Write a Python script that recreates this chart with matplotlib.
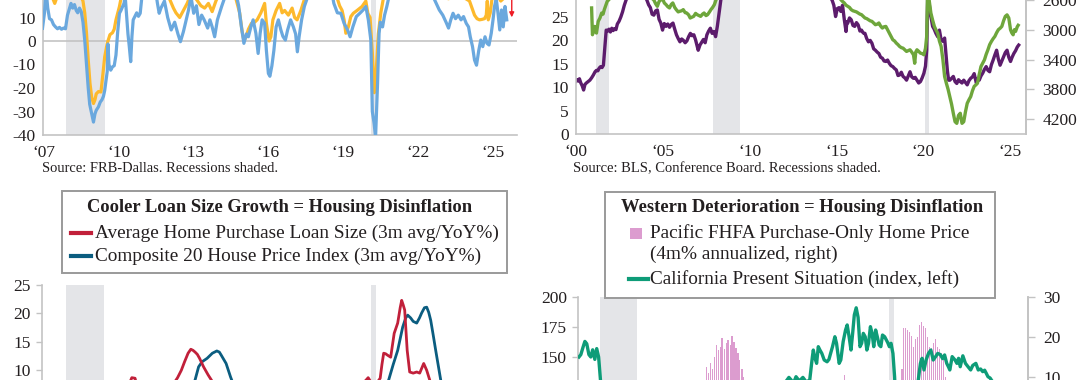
import numpy as np
import matplotlib
matplotlib.use("Agg")
import matplotlib.pyplot as plt
from matplotlib.patches import Rectangle
from matplotlib.lines import Line2D

W, H = 1080, 380
PAD = 200            # spare canvas above and below the visible strip
HT = H + 2 * PAD

# ---------------- data ----------------
# top left: FRB-Dallas survey indexes
tl_blue_x = [2006.96, 2007.04, 2007.1, 2007.17, 2007.24, 2007.32, 2007.4, 2007.48, 2007.56, 2007.64, 2007.72, 2007.8,
             2007.88, 2007.96, 2008.03, 2008.1, 2008.17, 2008.24, 2008.31, 2008.37, 2008.44, 2008.51, 2008.58, 2008.65,
             2008.72, 2008.79, 2008.85, 2008.93, 2009.0, 2009.06, 2009.11, 2009.2, 2009.27, 2009.34, 2009.4, 2009.45,
             2009.5, 2009.55, 2009.58, 2009.62, 2009.69, 2009.76, 2009.83, 2009.9, 2009.97, 2010.04, 2010.1, 2010.17,
             2010.22, 2010.27, 2010.32, 2010.38, 2010.43, 2010.49, 2010.54, 2010.59, 2010.66, 2010.73, 2010.8, 2010.87,
             2010.93, 2011.0, 2011.15, 2011.3, 2011.45, 2011.56, 2011.63, 2011.7, 2011.84, 2011.97, 2012.11, 2012.25,
             2012.38, 2012.48, 2012.6, 2012.71, 2012.8, 2012.9, 2012.96, 2013.01, 2013.12, 2013.22, 2013.33, 2013.43,
             2013.57, 2013.66, 2013.75, 2013.85, 2013.96, 2014.13, 2014.27, 2014.45, 2014.6, 2014.75, 2014.81, 2014.92,
             2015.02, 2015.12, 2015.2, 2015.3, 2015.39, 2015.5, 2015.59, 2015.67, 2015.75, 2015.85, 2015.92, 2016.0,
             2016.06, 2016.14, 2016.22, 2016.31, 2016.4, 2016.5, 2016.58, 2016.68, 2016.77, 2016.89, 2017.0, 2017.09,
             2017.16, 2017.23, 2017.33, 2017.44, 2017.58, 2017.8, 2018.0, 2018.2, 2018.4, 2018.55, 2018.62, 2018.76,
             2018.9, 2019.03, 2019.17, 2019.27, 2019.38, 2019.52, 2019.66, 2019.79, 2019.9, 2020.0, 2020.1, 2020.16,
             2020.23, 2020.29, 2020.33, 2020.37, 2020.43, 2020.48, 2020.57, 2020.65, 2020.74, 2020.83, 2021.0, 2021.3,
             2021.6, 2021.9, 2022.2, 2022.5, 2022.72, 2022.84, 2022.98, 2023.11, 2023.21, 2023.3, 2023.39, 2023.49,
             2023.6, 2023.71, 2023.81, 2023.92, 2024.01, 2024.08, 2024.17, 2024.25, 2024.33, 2024.42, 2024.5, 2024.58,
             2024.67, 2024.75, 2024.83, 2024.92, 2024.99, 2025.05, 2025.12, 2025.19, 2025.26, 2025.33, 2025.4, 2025.47,
             2025.54]
tl_blue_y = [5.4, 12, 22, 14, 9.5, 9, 7, 6, 5.2, 5.8, 5, 5.5,
             5.2, 11, 13.5, 16, 14, 15.5, 13, 12, 14, 12.5, 8, 0.4,
             -10, -20, -27, -31, -34.5, -31, -29.5, -28, -26, -25, -23.5, -21,
             -17, -13, -1.3, -10, -12.4, -11, -10.5, -6, 4, 11.8, 13, 14.7,
             16, 19, 12, 3, -2, -8.8, 2, 9, 10.5, 12, 10.5, 11.8,
             18, 22, 26, 21, 24, 16, 11.8, 14, 17, 10, 4.7, 8,
             3, -0.3, 4, 9, 13, 19, 15, 11.8, 15, 7, 11, 9,
             5.5, 9, 6, 1.8, 9, 14.7, 19, 24, 21, 18, 15, 6,
             -1, 3, 1.8, 6, 9, 3.3, -5.3, 3.3, 9, 7.5, -4, -13.8,
             -15, -10.6, -4, 6, 9, 4.7, 2, 0.4, 4.7, 9, 6, 3,
             -4.6, 1.8, 9, 14.7, 19, 25, 28, 24, 26, 20, 16, 12,
             11.8, 7.5, 4.7, 1.8, 6, 10.4, 11.8, 13.2, 14.7, 9, 0.4, -30,
             -35, -41, -30, -18, 3.3, 8, 6, 11, 14.7, 19, 30, 35,
             28, 30, 25, 21, 16, 13.2, 11, 8, 5.5, 9, 11.8, 9.5,
             11, 9, 10.4, 7.5, 6, 1.8, -2.4, -8.1, -10.3, -4, 0.4, -2.4,
             1.8, -1, -1.7, 3.3, 9, 14.7, 18, 11.8, 4.7, 13.2, 6, 14.7,
             9]
tl_orange_x = [2006.96, 2007.1, 2007.3, 2007.45, 2007.55, 2007.7, 2007.9, 2008.1, 2008.3, 2008.5, 2008.58, 2008.65,
               2008.72, 2008.79, 2008.86, 2008.93, 2009.0, 2009.06, 2009.11, 2009.2, 2009.3, 2009.38, 2009.45, 2009.55,
               2009.66, 2009.76, 2009.83, 2009.9, 2010.04, 2010.1, 2010.3, 2010.6, 2010.9, 2011.3, 2011.7, 2012.0,
               2012.2, 2012.3, 2012.45, 2012.6, 2012.75, 2012.9, 2013.1, 2013.3, 2013.45, 2013.6, 2013.75, 2013.9,
               2014.1, 2014.4, 2014.7, 2014.85, 2014.95, 2015.02, 2015.1, 2015.2, 2015.32, 2015.45, 2015.55, 2015.7,
               2015.85, 2015.92, 2016.03, 2016.1, 2016.18, 2016.31, 2016.45, 2016.55, 2016.65, 2016.8, 2016.95, 2017.05,
               2017.15, 2017.3, 2017.45, 2017.7, 2018.0, 2018.4, 2018.7, 2018.85, 2018.95, 2019.03, 2019.1, 2019.2,
               2019.3, 2019.4, 2019.55, 2019.75, 2019.9, 2019.98, 2020.07, 2020.16, 2020.24, 2020.32, 2020.4, 2020.5,
               2020.6, 2020.8, 2021.2, 2021.6, 2022.0, 2022.5, 2022.9, 2023.2, 2023.6, 2023.9, 2024.05, 2024.15,
               2024.25, 2024.35, 2024.45, 2024.55, 2024.65, 2024.72, 2024.76, 2024.8, 2024.88, 2024.95, 2025.1, 2025.3,
               2025.5]
tl_orange_y = [22, 25, 20, 16, 19, 22, 24, 26, 22, 19, 17, 12,
               3.5, -8, -18, -24, -26.6, -25, -22.5, -21.5, -21.7, -13.8, -6.7, -1,
               2.7, 3.5, 5, 9, 14.7, 18, 24, 20, 26, 28, 22, 19,
               14, 12, 10, 13, 16, 20, 18, 15, 14, 16, 12.5, 17,
               22, 26, 18, 12, 4, 0.2, 1.5, 5, 7.5, 8, 9, 12,
               16, 7.5, 0, 1.8, 9, 13, 16, 12, 13, 11, 14, 10,
               9, 13, 18, 25, 30, 27, 20, 15, 13, 9, 3.3, 6,
               10.4, 11.8, 13, 14.7, 17, 11.8, 10, -5, -22, -12, 3, 12,
               18, 26, 35, 32, 30, 24, 20, 18, 19, 18, 17, 14,
               11, 9.5, 9, 9.2, 9.5, 11, 17, 9, 12, 18, 21, 17,
               19]

# top right: BLS (left) and Conference Board (right, inverted)
tr_purple_x = [2000.0, 2000.08, 2000.16, 2000.22, 2000.3, 2000.38, 2000.46, 2000.54, 2000.62, 2000.72, 2000.82, 2000.92,
               2001.02, 2001.12, 2001.2, 2001.28, 2001.36, 2001.44, 2001.52, 2001.6, 2001.68, 2001.76, 2001.84, 2001.92,
               2002.0, 2002.08, 2002.16, 2002.24, 2002.32, 2002.4, 2002.5, 2002.6, 2002.7, 2002.8, 2002.9, 2003.0,
               2003.3, 2003.6, 2003.9, 2004.1, 2004.2, 2004.3, 2004.4, 2004.5, 2004.6, 2004.7, 2004.8, 2004.9,
               2005.0, 2005.1, 2005.2, 2005.3, 2005.4, 2005.5, 2005.6, 2005.7, 2005.8, 2005.9, 2006.0, 2006.1,
               2006.2, 2006.3, 2006.4, 2006.5, 2006.6, 2006.7, 2006.8, 2006.9, 2007.0, 2007.05, 2007.15, 2007.25,
               2007.35, 2007.45, 2007.55, 2007.65, 2007.75, 2007.85, 2007.95, 2008.05, 2008.15, 2008.25, 2008.35, 2008.5,
               2009.0, 2010.0, 2011.0, 2012.0, 2013.0, 2014.0, 2014.5, 2014.75, 2014.85, 2014.95, 2015.05, 2015.15,
               2015.25, 2015.35, 2015.45, 2015.55, 2015.6, 2015.65, 2015.75, 2015.85, 2015.95, 2016.05, 2016.15, 2016.25,
               2016.35, 2016.44, 2016.54, 2016.64, 2016.74, 2016.84, 2016.94, 2017.04, 2017.14, 2017.24, 2017.34, 2017.44,
               2017.54, 2017.64, 2017.74, 2017.84, 2017.94, 2018.04, 2018.14, 2018.24, 2018.34, 2018.44, 2018.54, 2018.63,
               2018.73, 2018.83, 2018.93, 2019.03, 2019.13, 2019.23, 2019.33, 2019.43, 2019.53, 2019.63, 2019.73, 2019.83,
               2019.93, 2020.03, 2020.12, 2020.19, 2020.25, 2020.33, 2020.39, 2020.46, 2020.53, 2020.62, 2020.72, 2020.82,
               2020.92, 2021.02, 2021.12, 2021.22, 2021.3, 2021.38, 2021.45, 2021.52, 2021.62, 2021.72, 2021.82, 2021.92,
               2022.02, 2022.12, 2022.22, 2022.32, 2022.42, 2022.52, 2022.62, 2022.72, 2022.82, 2022.92, 2023.0, 2023.05,
               2023.13, 2023.21, 2023.31, 2023.41, 2023.51, 2023.61, 2023.71, 2023.81, 2023.91, 2024.01, 2024.11, 2024.21,
               2024.31, 2024.41, 2024.51, 2024.61, 2024.71, 2024.81, 2024.91, 2025.01, 2025.1, 2025.2, 2025.3, 2025.4,
               2025.48]
tr_purple_y = [11.2, 11.6, 11.3, 11.8, 10.9, 10.3, 9.4, 10.6, 10.9, 11.2, 11.5, 12.0,
               12.6, 13.3, 13.6, 13.5, 14.1, 14.4, 14.2, 14.7, 18.5, 22.2, 22.0, 22.4,
               21.8, 22.6, 22.1, 22.5, 22.3, 23.5, 24.1, 25.0, 26.1, 27.5, 28.6, 29.5,
               31, 32, 30, 28.6, 27.6, 27.0, 25.6, 25.4, 26.3, 26.5, 24.5, 23.7,
               22.2, 23.6, 23.0, 23.5, 22.8, 23.4, 23.7, 22.4, 21.2, 20.4, 19.7, 20.3,
               20.0, 19.5, 19.9, 20.8, 21.5, 21.0, 21.2, 20.1, 18.6, 17.9, 19.0, 19.6,
               20.2, 19.5, 21.2, 22.0, 22.6, 21.5, 21.9, 20.8, 23.0, 25.8, 28.6, 31,
               34, 36, 36, 35, 33, 31, 30, 28.6, 27.5, 25.1, 26.8, 27.0,
               26.2, 27.5, 24.5, 21.9, 24.0, 23.7, 24.8, 24.4, 23.2, 23.0, 23.8, 23.3,
               22.0, 22.2, 21.6, 21.5, 20.4, 19.7, 20.0, 19.4, 18.2, 17.9, 17.5, 17.2,
               16.4, 16.2, 15.6, 15.5, 15.8, 15.1, 14.6, 14.4, 14.0, 13.7, 12.5, 12.6,
               13.2, 12.3, 12.0, 11.5, 12.4, 13.3, 12.2, 11.9, 12.1, 11.5, 10.9, 11.2,
               12.0, 13.0, 14.5, 17.9, 29, 28, 25.8, 24.5, 23.0, 22.4, 21.5, 20.8,
               22.2, 20.1, 19.8, 20.5, 17, 13.5, 11.5, 11.5, 11.9, 12.3, 11.2, 10.8,
               11.6, 11.2, 10.9, 11.5, 11.0, 10.5, 11.4, 11.9, 12.2, 12.9, 11.6, 10.8,
               11.8, 11.5, 12.4, 13.0, 13.8, 14.4, 13.6, 13.3, 14.8, 15.8, 16.9, 17.9,
               16.0, 14.7, 15.6, 16.5, 17.4, 17.9, 16.4, 15.5, 16.4, 17.2, 17.8, 18.6,
               19.0]
tr_green_x = [2000.92, 2000.97, 2001.02, 2001.1, 2001.15, 2001.2, 2001.3, 2001.4, 2001.5, 2001.58, 2001.65, 2001.72,
              2001.82, 2001.92, 2002.1, 2002.5, 2003.0, 2003.5, 2004.0, 2004.3, 2004.5, 2004.6, 2004.7, 2004.8,
              2004.9, 2005.0, 2005.1, 2005.2, 2005.3, 2005.4, 2005.5, 2005.59, 2005.7, 2005.79, 2005.9, 2005.99,
              2006.1, 2006.19, 2006.3, 2006.39, 2006.5, 2006.59, 2006.7, 2006.79, 2006.9, 2006.99, 2007.1, 2007.19,
              2007.3, 2007.39, 2007.5, 2007.59, 2007.7, 2007.78, 2007.88, 2007.98, 2008.08, 2008.18, 2008.5, 2009.0,
              2011.0, 2013.0, 2014.5, 2015.0, 2015.25, 2015.35, 2015.45, 2015.55, 2015.65, 2015.75, 2015.85, 2015.95,
              2016.05, 2016.15, 2016.25, 2016.35, 2016.44, 2016.54, 2016.64, 2016.74, 2016.84, 2016.94, 2017.04, 2017.14,
              2017.24, 2017.34, 2017.44, 2017.54, 2017.64, 2017.74, 2017.84, 2017.94, 2018.04, 2018.14, 2018.24, 2018.34,
              2018.44, 2018.54, 2018.63, 2018.73, 2018.83, 2018.93, 2019.03, 2019.13, 2019.23, 2019.33, 2019.43, 2019.5,
              2019.56, 2019.63, 2019.73, 2019.83, 2019.93, 2020.03, 2020.12, 2020.19, 2020.25, 2020.33, 2020.43, 2020.53,
              2020.63, 2020.72, 2020.82, 2020.92, 2021.02, 2021.12, 2021.22, 2021.32, 2021.42, 2021.52, 2021.62, 2021.72,
              2021.82, 2021.92, 2022.02, 2022.12, 2022.22, 2022.32, 2022.42, 2022.52, 2022.62, 2022.72, 2022.82, 2022.92,
              2023.02, 2023.11, 2023.21, 2023.31, 2023.41, 2023.51, 2023.61, 2023.71, 2023.81, 2023.91, 2024.01, 2024.11,
              2024.21, 2024.31, 2024.41, 2024.51, 2024.61, 2024.71, 2024.81, 2024.91, 2025.01, 2025.08, 2025.16, 2025.23,
              2025.3, 2025.4, 2025.45]
tr_green_y = [2707, 3067, 3010, 2955, 3030, 3044, 2887, 2842, 2775, 2790, 2730, 2685,
              2617, 2595, 2450, 2300, 2250, 2300, 2450, 2560, 2600, 2650, 2685, 2620,
              2600, 2580, 2640, 2662, 2690, 2707, 2660, 2640, 2700, 2730, 2760, 2752,
              2745, 2730, 2770, 2775, 2800, 2842, 2830, 2820, 2780, 2797, 2810, 2820,
              2790, 2775, 2810, 2797, 2760, 2730, 2700, 2662, 2595, 2500, 2300, 1500,
              1300, 1800, 2300, 2500, 2595, 2620, 2640, 2670, 2685, 2700, 2730, 2745,
              2752, 2760, 2775, 2790, 2797, 2820, 2842, 2850, 2865, 2880, 2887, 2910,
              2932, 2925, 2909, 2950, 2977, 2960, 2955, 3000, 3044, 3090, 3134, 3150,
              3179, 3200, 3224, 3240, 3247, 3270, 3291, 3280, 3269, 3300, 3336, 3450,
              3300, 3269, 3290, 3314, 3320, 3336, 3250, 3089, 2400, 2600, 2775, 2870,
              2955, 3000, 3044, 3150, 3224, 3400, 3628, 3718, 3800, 3898, 4000, 4122,
              4235, 4257, 4150, 4122, 4257, 4235, 4100, 3988, 3940, 3898, 3820, 3760,
              3740, 3718, 3600, 3494, 3450, 3404, 3330, 3269, 3200, 3157, 3120, 3089,
              3040, 2999, 2980, 2955, 2880, 2820, 2800, 2842, 2999, 3040, 3067, 3000,
              3022, 2958, 2940]

# bottom left: loan size vs Composite 20 (3m avg, YoY%)
loan_x = [2010.0, 2010.3, 2010.55, 2010.68, 2010.8, 2011.2, 2011.6, 2011.9, 2012.2, 2012.38, 2012.53, 2012.66,
          2012.8, 2012.91, 2013.0, 2013.08, 2013.17, 2013.26, 2013.42, 2013.6, 2013.73, 2013.9, 2014.3, 2015.0,
          2016.0, 2017.0, 2018.0, 2019.0, 2019.7, 2019.9, 2020.0, 2020.1, 2020.3, 2020.48, 2020.55, 2020.62,
          2020.7, 2020.76, 2020.9, 2021.04, 2021.18, 2021.28, 2021.34, 2021.4, 2021.46, 2021.56, 2021.66, 2021.8,
          2021.94, 2022.06, 2022.22, 2022.34, 2022.46, 2022.6, 2023.0, 2023.5, 2024.0, 2024.5, 2025.0, 2025.4]
loan_y = [4, 6, 8.7, 8.6, 6.5, 5, 5.5, 6, 7.5, 8.7, 10, 11.5,
          13, 13.7, 13.5, 13.2, 12.8, 12.1, 10.6, 9.2, 8.3, 7, 5, 4,
          3.5, 4.5, 5.5, 6, 7.5, 8.2, 8.7, 8.0, 7.5, 8.6, 11, 13.0,
          12.9, 12.7, 12.3, 16.5, 18.3, 21, 22.3, 21.5, 20.6, 13.5, 9.7, 9.5,
          9.7, 9.5, 11.2, 10.0, 8.3, 5, 0, -2, 2, 4, 3.5, 3]
cs20_x = [2010.0, 2011.0, 2012.0, 2012.5, 2012.9, 2013.08, 2013.22, 2013.36, 2013.56, 2013.77, 2013.95, 2014.05,
          2014.12, 2014.32, 2014.5, 2014.7, 2015.0, 2016.0, 2017.0, 2018.0, 2019.0, 2020.0, 2020.5, 2020.82,
          2021.0, 2021.18, 2021.38, 2021.5, 2021.58, 2021.7, 2021.8, 2021.94, 2022.05, 2022.14, 2022.25, 2022.34,
          2022.42, 2022.5, 2022.6, 2022.7, 2022.9, 2023.1, 2023.5, 2024.0, 2024.5, 2025.0, 2025.3]
cs20_y = [-2, -4, -3, 2, 6.5, 8.3, 10.6, 11.5, 12.1, 13.0, 13.4, 13.2,
          12.7, 11.2, 8.8, 6.5, 5, 5, 5.5, 6, 3, 3.5, 5, 8.3,
          11, 13.5, 17.6, 19.2, 19.7, 19.2, 18.6, 18.3, 19.2, 20.1, 21.0, 21.1,
          20.2, 18.8, 16.2, 13.5, 8.3, 4, -1, 4, 6, 4, 3]

# bottom right: California present situation (left) and Pacific FHFA (right, bars)
ca_x = [2007.0, 2007.08, 2007.17, 2007.25, 2007.33, 2007.42, 2007.5, 2007.58, 2007.67, 2007.75, 2007.83, 2007.92,
        2008.0, 2008.5, 2009.0, 2009.5, 2010.0, 2011.0, 2012.0, 2013.0, 2014.0, 2015.0, 2015.5, 2015.75,
        2015.86, 2015.95, 2016.05, 2016.16, 2016.3, 2016.45, 2016.6, 2016.74, 2016.85, 2016.89, 2016.96, 2017.03,
        2017.1, 2017.17, 2017.25, 2017.35, 2017.47, 2017.55, 2017.62, 2017.7, 2017.8, 2017.87, 2017.98, 2018.05,
        2018.15, 2018.25, 2018.32, 2018.4, 2018.48, 2018.55, 2018.62, 2018.7, 2018.78, 2018.86, 2018.93, 2019.0,
        2019.08, 2019.15, 2019.22, 2019.3, 2019.37, 2019.44, 2019.52, 2019.59, 2019.67, 2019.74, 2019.81, 2019.9,
        2020.03, 2020.1, 2020.17, 2020.25, 2020.32, 2020.4, 2020.6, 2021.0, 2021.3, 2021.41, 2021.48, 2021.56,
        2021.65, 2021.75, 2021.85, 2021.95, 2022.05, 2022.14, 2022.25, 2022.35, 2022.43, 2022.52, 2022.6, 2022.65,
        2022.75, 2022.87, 2022.95, 2023.02, 2023.09, 2023.2, 2023.31, 2023.42, 2023.53, 2023.62, 2023.75, 2023.85,
        2023.95, 2024.04, 2024.12, 2024.2, 2024.26, 2024.35, 2024.5, 2024.8, 2025.2, 2025.5]
ca_y = [150, 152, 158, 163, 161, 152, 150, 156, 148, 157, 150, 128,
        115, 80, 60, 58, 70, 78, 90, 105, 112, 120, 126, 130,
        133, 131, 128, 133.6, 130, 133, 129, 131, 150, 155.8, 149, 144.7,
        158.6, 155.8, 153, 147.5, 146, 148, 153, 158.6, 166.9, 161.4, 144.7, 147.5,
        162.8, 172.5, 176.7, 166.9, 155.8, 169.7, 185, 191, 183, 158.6, 161.4, 169.7,
        166.9, 155.8, 161.4, 175.3, 169.7, 158.6, 172.5, 166.9, 160, 158.6, 168.3, 166.9,
        162, 158.6, 161.4, 153, 133.6, 100, 80, 100, 128, 144.7, 148.9, 139.2,
        147.5, 153, 155.8, 147.5, 150.3, 153, 152, 148.6, 151.7, 144.7, 141.5, 139.2,
        150.3, 147.5, 144.7, 148.9, 141.9, 151, 144.7, 141.9, 139.2, 143, 144.7, 139.2,
        140, 137.8, 139, 136, 133.6, 132.5, 128, 124, 120, 115]
fhfa_x = [2012.29, 2012.38, 2012.46, 2012.54, 2012.63, 2012.71, 2012.79, 2012.88, 2012.96, 2013.04, 2013.13, 2013.21,
          2013.29, 2013.38, 2013.46, 2013.54, 2013.63, 2013.71, 2013.79, 2013.88, 2013.96, 2014.04,
          2018.13, 2018.21, 2018.29,
          2020.54, 2020.63, 2020.71, 2020.79, 2020.88, 2020.96, 2021.04, 2021.13, 2021.21, 2021.29, 2021.38, 2021.46,
          2021.54, 2021.63, 2021.71, 2021.79, 2021.88, 2021.96, 2022.04, 2022.13, 2022.21, 2022.29, 2022.38, 2022.46,
          2022.54]
fhfa_y = [8, 12.5, 11, 13.5, 12, 15, 18, 16.8, 17.5, 19.7, 17, 18.5,
          19.2, 18, 20.2, 18.7, 17.2, 16, 14.2, 12, 10, 8,
          8, 10.5, 8,
          8, 12, 22.2, 22.2, 21.7, 21.2, 20.2, 17.5, 19.5, 20, 23, 23.8,
          22.8, 22.2, 20, 17.5, 17.2, 18.5, 19.6, 17.5, 17, 16, 14.2, 10,
          5]

recessions_00 = [(2001.2, 2001.9), (2007.9, 2009.45), (2020.1, 2020.3)]
recessions_07 = [(2007.9, 2009.45), (2020.1, 2020.3)]

# ---------------- style ----------------
GRAY = '#c3c3c3'
SHADE = '#e4e5e8'
TXT = '#231f20'
PINK = '#dc9ccf'
plt.rcParams['font.family'] = ['Liberation Serif', 'DejaVu Serif']
plt.rcParams['text.color'] = TXT
plt.rcParams['axes.unicode_minus'] = False

fig = plt.figure(figsize=(W / 100, HT / 100), dpi=100)


def fy(y):
    # visible-strip pixel row -> figure fraction
    return 1 - (y + PAD) / HT


def box(x0, y0, x1, y1):
    return fig.add_axes([x0 / W, fy(y1), (x1 - x0) / W, (y1 - y0) / HT])


def style(ax, spines, fs=12.5):
    for s in ['top', 'bottom', 'left', 'right']:
        ax.spines[s].set_visible(s in spines)
        ax.spines[s].set_color(GRAY)
        ax.spines[s].set_linewidth(1.2)
    ax.patch.set_alpha(0)
    ax.tick_params(colors=GRAY, labelcolor=TXT, labelsize=fs, width=1, length=4, pad=3)


def yr_labels(ax, years):
    ax.set_xticks(years)
    ax.set_xticklabels(['\u2018%02d' % (y % 100) for y in years])


# ---- top left
ax = box(42.5, -53, 517, 135)
style(ax, ['left', 'bottom'])
for a, b in recessions_07:
    ax.axvspan(a, b, color=SHADE, lw=0, zorder=0)
ax.axhline(0, color=GRAY, lw=1.2, zorder=1)
ax.plot(tl_orange_x, tl_orange_y, color='#fdb92c', lw=2.3, zorder=2)
ax.plot(tl_blue_x, tl_blue_y, color='#6aa8de', lw=2.3, zorder=3)
ax.set_xlim(2006.96, 2025.95)
ax.set_ylim(-40, 40)
ax.set_yticks([-40, -30, -20, -10, 0, 10])
yr_labels(ax, [2007, 2010, 2013, 2016, 2019, 2022, 2025])
ax.tick_params(axis='x', length=0, pad=7)
ax.tick_params(axis='y', length=0, pad=5)
ax.annotate('', xy=(2025.74, 8.9), xytext=(2025.74, 30),
            arrowprops=dict(arrowstyle='-|>', color='#ee1c25', lw=1, mutation_scale=7))
fig.text(41.5 / W, fy(169), 'Source: FRB-Dallas. Recessions shaded.', fontsize=10.45, va='center')

# ---- top right
ax = box(575.6, -29.8, 1026, 134)
style(ax, ['left', 'bottom', 'right'])
for a, b in recessions_00:
    ax.axvspan(a, b, color=SHADE, lw=0, zorder=0)
ax.plot(tr_purple_x, tr_purple_y, color='#5c1c6c', lw=2.4, zorder=2)
ax.set_xlim(2000.0, 2025.9)
ax.set_ylim(0, 35)
ax.set_yticks([0, 5, 10, 15, 20, 25])
yr_labels(ax, [2000, 2005, 2010, 2015, 2020, 2025])
ax.tick_params(axis='x', length=0, pad=7)
ax.tick_params(axis='y', length=0, pad=5)
ax2 = ax.twinx()
style(ax2, ['right'])
ax2.plot(tr_green_x, tr_green_y, color='#6ea63b', lw=2.4, zorder=3)
ax2.set_ylim(4400, 2200)
ax2.set_yticks([2200, 2600, 3000, 3400, 3800, 4200])
ax2.tick_params(axis='y', length=6, pad=6)
fig.text(573 / W, fy(169), 'Source: BLS, Conference Board. Recessions shaded.', fontsize=10.5, va='center')

# ---- bottom left
ax = box(42, 285, 517, 484)
style(ax, ['left'])
for a, b in recessions_07:
    ax.axvspan(a, b, color=SHADE, lw=0, zorder=0)
ax.plot(cs20_x, cs20_y, color='#0b5d80', lw=2.0, zorder=2)
ax.plot(loan_x, loan_y, color='#c1203a', lw=2.0, zorder=3)
ax.set_xlim(2006.96, 2025.95)
ax.set_ylim(-10, 25)
ax.set_yticks([10, 15, 20, 25])
ax.set_xticks([])
ax.tick_params(axis='y', length=4, pad=4)

# legend box (bottom left)
fig.patches.append(Rectangle((62 / W, fy(273)), 445 / W, 81.5 / HT, transform=fig.transFigure,
                             facecolor='white', edgecolor='#9a9a9a', lw=1.4, zorder=5))
fig.text(280 / W, fy(208), 'Cooler Loan Size Growth = Housing Disinflation', fontsize=13.3,
         fontweight='bold', ha='center', va='center', zorder=6)
for yy, col, lab in [(233, '#c1203a', 'Average Home Purchase Loan Size (3m avg/YoY%)'),
                     (256, '#0b5d80', 'Composite 20 House Price Index (3m avg/YoY%)')]:
    fig.lines.append(Line2D([71 / W, 91 / W], [fy(yy)] * 2, transform=fig.transFigure,
                            color=col, lw=3, zorder=6))
    fig.text(95 / W, fy(yy), lab, fontsize=13.85, va='center', zorder=6)

# ---- bottom right
ax = box(578, 297, 1028, 537)
style(ax, ['left', 'right'])
for a, b in recessions_07:
    ax.axvspan(a, b, color=SHADE, lw=0, zorder=0)
ax.set_xlim(2006.96, 2025.95)
ax.set_ylim(0, 200)
ax.set_yticks([150, 175, 200])
ax.set_xticks([])
ax.tick_params(axis='y', length=4, pad=4)
ax3 = ax.twinx()
style(ax3, ['right'])
ax3.bar(fhfa_x, fhfa_y, width=0.05, color=PINK, lw=0, zorder=1, antialiased=False)
ax3.set_ylim(-30, 30)
ax3.set_yticks([10, 20, 30])
ax3.tick_params(axis='y', length=5, pad=6)
ax4 = ax.twinx()
ax4.axis('off')
ax4.plot(ca_x, ca_y, color='#0e9c78', lw=2.4, zorder=3)
ax4.set_ylim(0, 200)

fig.patches.append(Rectangle((605 / W, fy(298)), 390 / W, 106.5 / HT, transform=fig.transFigure,
                             facecolor='white', edgecolor='#9a9a9a', lw=1.4, zorder=5))
fig.text(802 / W, fy(208), 'Western Deterioration = Housing Disinflation', fontsize=13.4,
         fontweight='bold', ha='center', va='center', zorder=6)
fig.patches.append(Rectangle((630 / W, fy(239)), 12 / W, 11 / HT, transform=fig.transFigure,
                             facecolor=PINK, edgecolor='none', zorder=6))
fig.text(650 / W, fy(233), 'Pacific FHFA Purchase-Only Home Price', fontsize=13.85, va='center', zorder=6)
fig.text(650 / W, fy(254), '(4m% annualized, right)', fontsize=13.85, va='center', zorder=6)
fig.lines.append(Line2D([629 / W, 648 / W], [fy(279)] * 2, transform=fig.transFigure,
                        color='#0e9c78', lw=3, zorder=6))
fig.text(650 / W, fy(279), 'California Present Situation (index, left)', fontsize=13.85, va='center', zorder=6)

# render the tall canvas and keep the visible strip only
fig.canvas.draw()
img = np.asarray(fig.canvas.buffer_rgba())[PAD:PAD + H, :, :3]
plt.imsave('out.png', img)
